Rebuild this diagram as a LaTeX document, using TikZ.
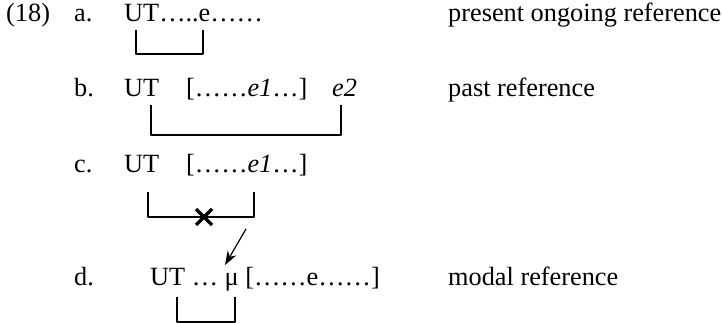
\documentclass[tikz,border=0pt]{standalone}
\usepackage{fontspec}
\setmainfont{Liberation Serif}
\usetikzlibrary{arrows.meta}
\begin{document}
\begin{tikzpicture}[x=1pt,y=-1pt,line join=round,>={Stealth[length=14pt,width=10pt]},font=\fontsize{26.3}{30}\selectfont,
	txt/.style={anchor=base west,inner sep=0pt},
	brk/.style={line width=1.2pt}]
	\useasboundingbox (0,0) rectangle (722,323);
	\def\xl{74} \def\xr{448}
	\def\ya{22} \def\yb{97} \def\yc{173} \def\yd{285}
	% row a
	\node[txt] (num) at (6,\ya) {(18)};
	\node[txt] (la) at (\xl,\ya) {a.};
	\node[txt] (sa) at (124,\ya) {UT…..e……};
	\node[txt] (ra) at (\xr,\ya) {present ongoing reference};
	\coordinate (a1) at (136,30); \coordinate (a2) at (203,30);
	\draw[brk] (a1)--++(0,24)-|(a2);
	% row b
	\node[txt] (lb) at (\xl,\yb) {b.};
	\node[txt] (ub) at (124,\yb) {UT};
	\node[txt] (eb) at (186,\yb) {[……\textit{e1}…]};
	\node[txt] (e2) at (332,\yb) {\textit{e2}};
	\node[txt] (rb) at (\xr,\yb) {past reference};
	\coordinate (b1) at (151,105); \coordinate (b2) at (341,105);
	\draw[brk] (b1)--++(0,30)-|(b2);
	% row c
	\node[txt] (lc) at (\xl,\yc) {c.};
	\node[txt] (uc) at (124,\yc) {UT};
	\node[txt] (ec) at (186,\yc) {[……\textit{e1}…]};
	\coordinate (c1) at (148,192); \coordinate (c2) at (254,192);
	\draw[brk] (c1)--++(0,25)-|(c2);
	\coordinate (x) at (204,217);
	\draw[line width=3.2pt] (x)++(-8,-8)--++(16,16) (x)++(-8,8)--++(16,-16);
	\coordinate (p) at (246,229); \coordinate (q) at (225,265);
	\draw[->,line width=1.2pt] (p)--(q);
	% row d
	\node[txt] (ld) at (\xl,\yd) {d.};
	\node[txt] (sd) at (150,\yd) {UT … μ [……e……]};
	\node[txt] (rd) at (\xr,\yd) {modal reference};
	\coordinate (d1) at (177,297); \coordinate (d2) at (235,297);
	\draw[brk] (d1)--++(0,25)-|(d2);
\end{tikzpicture}
\end{document}
